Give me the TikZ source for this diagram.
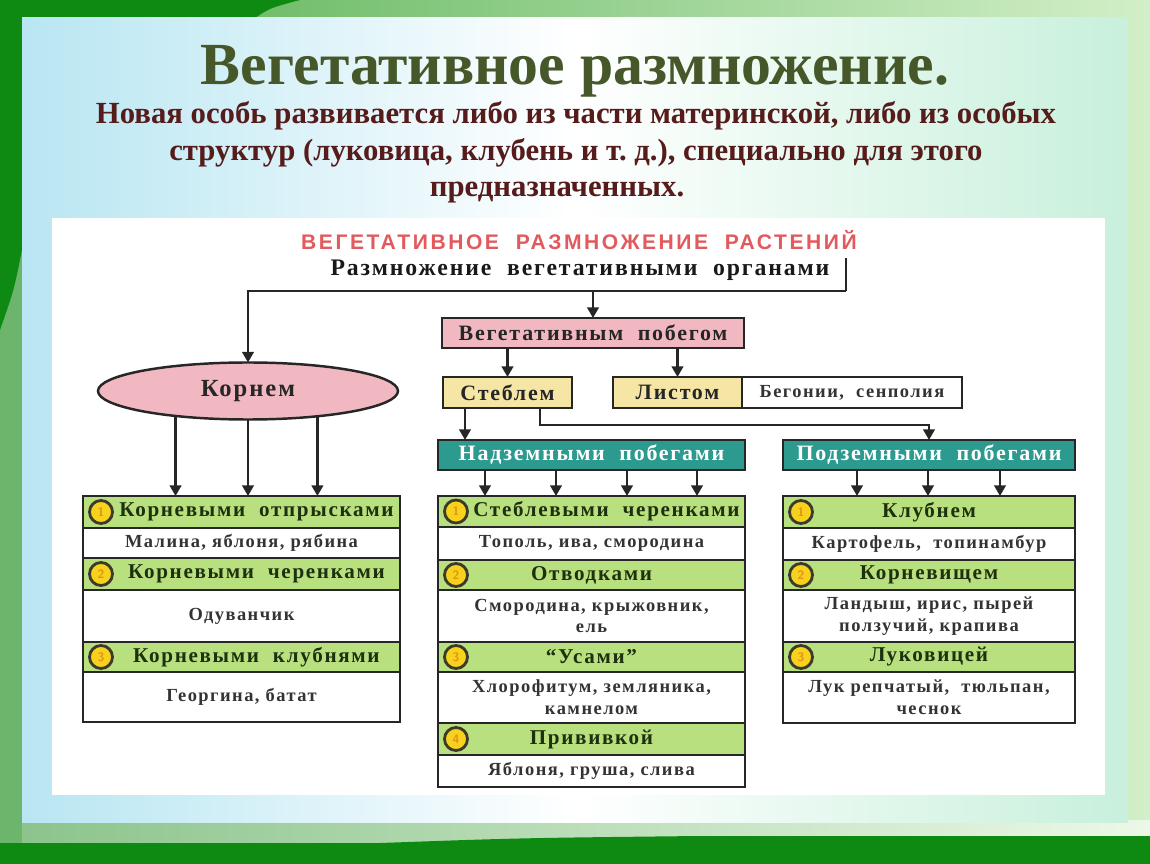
\documentclass[tikz,border=0pt]{standalone}
\usepackage{fontspec}
\setmainfont{Liberation Serif}
\newfontfamily\titlef{Liberation Serif}
\newfontfamily\dgf[LetterSpace=8]{Liberation Serif}
\newfontfamily\redf[LetterSpace=12]{Liberation Sans}
\usetikzlibrary{arrows.meta,shapes.geometric}
\definecolor{dkgreen}{HTML}{0E8A12}
\definecolor{midgreen}{HTML}{6DB46D}
\definecolor{ltgreen}{HTML}{BFE8B0}
\definecolor{titlec}{HTML}{46582A}
\definecolor{subc}{HTML}{561C1C}
\definecolor{redh}{HTML}{E25A5E}
\definecolor{pinkb}{HTML}{F2B8C2}
\definecolor{yelb}{HTML}{F5E6A6}
\definecolor{tealb}{HTML}{2C9A8E}
\definecolor{limeb}{HTML}{B9E07E}
\definecolor{numy}{HTML}{F6D21C}
\definecolor{numo}{HTML}{E6901A}
\definecolor{linec}{HTML}{262626}
\definecolor{hdtext}{HTML}{1E300E}
\definecolor{panell}{HTML}{B8E6F2}
\definecolor{panelr}{HTML}{C8F0DC}
\newcommand\rowbox[7]{%
  \node[#6, minimum width={(#4-#2)*0.02cm}, minimum height={(#5-#3)*0.02cm}] (#1) at ({(#2+#4)/2},{(#3+#5)/2}) {#7};}
\tikzset{
  box/.style={draw=linec, line width=1.4pt, inner sep=0pt, outer sep=0pt, align=center,
    font=\dgf\bfseries\fontsize{10.5}{12.5}\selectfont},
  hrow/.style={box, fill=limeb, text=hdtext, font=\dgf\bfseries\fontsize{12}{13}\selectfont},
  wrow/.style={box, fill=white, text=black!80},
  pinkbox/.style={box, fill=pinkb, text=black!85, font=\dgf\bfseries\fontsize{12.5}{14}\selectfont},
  yelbox/.style={box, fill=yelb, text=black!85, font=\dgf\bfseries\fontsize{12.5}{14}\selectfont},
  tealbox/.style={box, fill=tealb, text=white, font=\dgf\bfseries\fontsize{12.5}{14}\selectfont},
  numc/.style={circle, draw=black!75!olive, line width=1.6pt, fill=numy, inner sep=0pt, outer sep=0pt,
    minimum size={23*0.02cm}, text=numo, font=\sffamily\bfseries\fontsize{7}{7}\selectfont},
  ln/.style={draw=linec, line width=1.4pt},
  arr/.style={draw=linec, line width=1.4pt, -{Triangle[length=6pt,width=6.5pt]}},
}
\begin{document}
\begin{tikzpicture}[x=0.02cm,y=-0.02cm]
\useasboundingbox (0,0) rectangle (1150,864);
% background
\shade[left color=dkgreen!60!ltgreen, right color=ltgreen!70!white] (0,0) rectangle (1150,864);
\shade[left color=midgreen!80!white, right color=ltgreen!30!white] (0,820) rectangle (1150,845);
\fill[midgreen] (0,0) rectangle (22,864);
\fill[dkgreen] (0,0) -- (22,0) -- (22,250) .. controls (14,290) .. (0,330) -- cycle;
\fill[dkgreen] (0,0) -- (300,0) .. controls (270,8) .. (255,18) -- (0,18) -- cycle;
\shade[left color=panell, right color=panelr, middle color=white] (22,18) rectangle (1128,822);
\fill[dkgreen] (0,843) -- (380,843) .. controls (520,838) .. (700,836) -- (1150,836) -- (1150,864) -- (0,864) -- cycle;
\fill[white] (52,218) rectangle (1105,795);
% titles
\node[anchor=base, font=\titlef\bfseries\fontsize{34}{40}\selectfont, text=titlec] (title) at (575,85) {Вегетативное размножение.};
\node[anchor=base, font=\bfseries\fontsize{17.5}{20}\selectfont, text=subc] (sub1) at (576,124) {Новая особь развивается либо из части материнской, либо из особых};
\node[anchor=base, font=\bfseries\fontsize{17.5}{20}\selectfont, text=subc] (sub2) at (576,161) {структур (луковица, клубень и т.~д.), специально для этого};
\node[anchor=base, font=\bfseries\fontsize{17.5}{20}\selectfont, text=subc] (sub3) at (557,197) {предназначенных.};
% diagram headers
\node[font=\redf\bfseries\fontsize{12}{13}\selectfont, text=redh] (hdr) at (579,240) {ВЕГЕТАТИВНОЕ\ \ РАЗМНОЖЕНИЕ\ \ РАСТЕНИЙ};
\node[font=\dgf\bfseries\fontsize{13.5}{15}\selectfont, text=black!90] (org) at (580,270) {Размножение\ \ вегетативными\ \ органами};
% upper boxes
\node[ellipse, draw=linec, line width=1.4pt, fill=pinkb, inner sep=0pt, outer sep=0pt,
  minimum width={300*0.02cm}, minimum height={57*0.02cm},
  font=\dgf\bfseries\fontsize{14}{15}\selectfont, text=black!85] (korn) at (248,391) {Корнем};
\rowbox{veg}{442}{318}{744}{348}{pinkbox}{Вегетативным\ \ побегом}
\rowbox{stem}{443}{377}{572}{408}{yelbox}{Стеблем}
\rowbox{list}{613}{377}{742}{408}{yelbox}{Листом}
\rowbox{beg}{742}{377}{962}{408}{wrow}{Бегонии,\ \ сенполия}
\rowbox{nad}{438}{440}{745}{470}{tealbox}{Надземными\ \ побегами}
\rowbox{pod}{783}{440}{1075}{470}{tealbox}{Подземными\ \ побегами}
% left table
\rowbox{L1}{83}{496}{400}{528}{hrow}{\hspace*{17pt}Корневыми\ \ отпрысками}
\rowbox{L2}{83}{528}{400}{558}{wrow}{Малина,\ яблоня,\ рябина}
\rowbox{L3}{83}{558}{400}{590}{hrow}{\hspace*{17pt}Корневыми\ \ черенками}
\rowbox{L4}{83}{590}{400}{642}{wrow}{Одуванчик}
\rowbox{L5}{83}{642}{400}{672}{hrow}{\hspace*{17pt}Корневыми\ \ клубнями}
\rowbox{L6}{83}{672}{400}{722}{wrow}{Георгина,\ батат}
% middle table
\rowbox{M1}{438}{496}{745}{527}{hrow}{\hspace*{17pt}Стеблевыми\ \ черенками}
\rowbox{M2}{438}{527}{745}{560}{wrow}{Тополь,\ ива,\ смородина}
\rowbox{M3}{438}{560}{745}{590}{hrow}{Отводками}
\rowbox{M4}{438}{590}{745}{642}{wrow}{Смородина,\ крыжовник,\\ель}
\rowbox{M5}{438}{642}{745}{672}{hrow}{“Усами”}
\rowbox{M6}{438}{672}{745}{723}{wrow}{Хлорофитум,\ земляника,\\камнелом}
\rowbox{M7}{438}{723}{745}{755}{hrow}{Прививкой}
\rowbox{M8}{438}{755}{745}{787}{wrow}{Яблоня,\ груша,\ слива}
% right table
\rowbox{R1}{783}{496}{1075}{528}{hrow}{Клубнем}
\rowbox{R2}{783}{528}{1075}{560}{wrow}{Картофель,\ \ топинамбур}
\rowbox{R3}{783}{560}{1075}{590}{hrow}{Корневищем}
\rowbox{R4}{783}{590}{1075}{642}{wrow}{Ландыш,\ ирис,\ пырей\\ползучий,\ крапива}
\rowbox{R5}{783}{642}{1075}{672}{hrow}{Луковицей}
\rowbox{R6}{783}{672}{1075}{723}{wrow}{Лук репчатый,\ \ тюльпан,\\чеснок}
% number circles
\node[numc] (nL1) at ([xshift=18*0.02cm]L1.west) {1};
\node[numc] (nL3) at ([xshift=18*0.02cm]L3.west) {2};
\node[numc] (nL5) at ([xshift=18*0.02cm]L5.west) {3};
\node[numc] (nM1) at ([xshift=18*0.02cm]M1.west) {1};
\node[numc] (nM3) at ([xshift=18*0.02cm]M3.west) {2};
\node[numc] (nM5) at ([xshift=18*0.02cm]M5.west) {3};
\node[numc] (nM7) at ([xshift=18*0.02cm]M7.west) {4};
\node[numc] (nR1) at ([xshift=18*0.02cm]R1.west) {1};
\node[numc] (nR3) at ([xshift=18*0.02cm]R3.west) {2};
\node[numc] (nR5) at ([xshift=18*0.02cm]R5.west) {3};
% connectors
\coordinate (brT) at (846,258);
\coordinate (brC) at (846,291);
\draw[ln] (brT) -- (brC);
\draw[arr] (brC) -| (korn.north);
\draw[arr] (veg.north |- brC) -- (veg.north);
\draw[arr] (veg.south -| stem.north) -- (stem.north);
\draw[arr] (veg.south -| list.north) -- (list.north);
\draw[arr] (korn.199.2) -- (korn.199.2 |- L1.north);
\draw[arr] (korn.south) -- (korn.south |- L1.north);
\draw[arr] (korn.340.8) -- (korn.340.8 |- L1.north);
\path (stem.south west) ++(22,0) coordinate (s1);
\path (stem.south west) ++(97,0) coordinate (s2);
\draw[arr] (s1) -- (s1 |- nad.north);
\draw[arr] (s2) -- ++(0,17) -| (pod.north);
\foreach \dx in {47,118,189,259}
  \draw[arr] ([xshift=\dx*0.02cm]nad.south west) -- ([xshift=\dx*0.02cm]nad.south west |- M1.north);
\foreach \dx in {74,145,217}
  \draw[arr] ([xshift=\dx*0.02cm]pod.south west) -- ([xshift=\dx*0.02cm]pod.south west |- R1.north);
\end{tikzpicture}
\end{document}
